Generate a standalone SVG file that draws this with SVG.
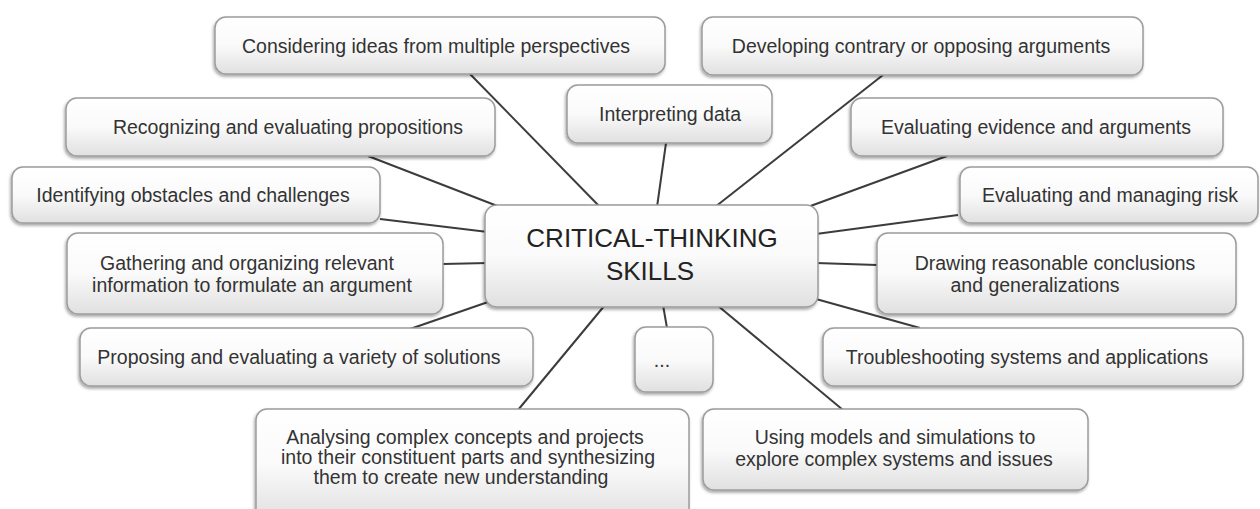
<svg xmlns="http://www.w3.org/2000/svg" width="1260" height="509" viewBox="0 0 1260 509">
<defs>
<linearGradient id="g" x1="0" y1="0" x2="0" y2="1">
<stop offset="0" stop-color="#ffffff"/>
<stop offset="0.5" stop-color="#fafafa"/>
<stop offset="1" stop-color="#e0e0e0"/>
</linearGradient>
<filter id="sh" x="-5%" y="-10%" width="110%" height="130%">
<feDropShadow dx="-1" dy="2" stdDeviation="1.5" flood-color="#000" flood-opacity="0.35"/>
</filter>
</defs>
<style>
.box{fill:url(#g);stroke:#9c9c9c;stroke-width:1.5;filter:url(#sh)}
.t{font-family:"Liberation Sans",Arial,sans-serif;font-size:19.5px;fill:#333;text-anchor:middle}
.c{font-size:26px;fill:#222}
.ln{stroke:#3c3c3c;stroke-width:2;fill:none}
</style>
<rect width="1260" height="509" fill="#fff"/>
<g id="connectors">
<line class="ln" x1="470" y1="74" x2="600" y2="207"/>
<line class="ln" x1="666" y1="143" x2="657" y2="207"/>
<line class="ln" x1="883" y1="75" x2="715" y2="207"/>
<line class="ln" x1="947" y1="156" x2="805" y2="208"/>
<line class="ln" x1="958" y1="215" x2="816" y2="234"/>
<line class="ln" x1="877" y1="265" x2="816" y2="263"/>
<line class="ln" x1="920" y1="328" x2="816" y2="299"/>
<line class="ln" x1="717" y1="305" x2="843" y2="410"/>
<line class="ln" x1="663" y1="305" x2="667" y2="328"/>
<line class="ln" x1="605" y1="305" x2="518" y2="410"/>
<line class="ln" x1="488" y1="302" x2="410" y2="329"/>
<line class="ln" x1="443" y1="264" x2="488" y2="263"/>
<line class="ln" x1="380" y1="219" x2="488" y2="232"/>
<line class="ln" x1="368" y1="156" x2="500" y2="207"/>
</g>
<g id="n-considering">
<rect class="box" x="215" y="17" width="450" height="57" rx="11"/>
<text class="t" x="436" y="53">Considering ideas from multiple perspectives</text>
</g>
<g id="n-developing">
<rect class="box" x="702" y="17" width="441" height="58" rx="11"/>
<text class="t" x="921" y="53">Developing contrary or opposing arguments</text>
</g>
<g id="n-interpreting">
<rect class="box" x="567" y="85" width="205" height="58" rx="11"/>
<text class="t" x="670" y="121">Interpreting data</text>
</g>
<g id="n-recognizing">
<rect class="box" x="66" y="98" width="429" height="58" rx="11"/>
<text class="t" x="288" y="134">Recognizing and evaluating propositions</text>
</g>
<g id="n-evidence">
<rect class="box" x="851" y="98" width="372" height="58" rx="11"/>
<text class="t" x="1036" y="134">Evaluating evidence and arguments</text>
</g>
<g id="n-identifying">
<rect class="box" x="12" y="167" width="368" height="56" rx="11"/>
<text class="t" x="193" y="202">Identifying obstacles and challenges</text>
</g>
<g id="n-risk">
<rect class="box" x="960" y="167" width="298" height="56" rx="11"/>
<text class="t" x="1110" y="202">Evaluating and managing risk</text>
</g>
<g id="n-gathering">
<rect class="box" x="67" y="233" width="376" height="81" rx="11"/>
<text class="t" x="247" y="270">Gathering and organizing relevant</text>
<text class="t" x="252" y="292">information to formulate an argument</text>
</g>
<g id="n-drawing">
<rect class="box" x="877" y="233" width="359" height="81" rx="11"/>
<text class="t" x="1055" y="270">Drawing reasonable conclusions</text>
<text class="t" x="1035" y="292">and generalizations</text>
</g>
<g id="n-center">
<rect class="box" x="485" y="205" width="333" height="102" rx="12"/>
<text class="t c" x="652" y="247">CRITICAL-THINKING</text>
<text class="t c" x="650" y="280">SKILLS</text>
</g>
<g id="n-proposing">
<rect class="box" x="80" y="328" width="453" height="58" rx="11"/>
<text class="t" x="299" y="364">Proposing and evaluating a variety of solutions</text>
</g>
<g id="n-troubleshooting">
<rect class="box" x="823" y="328" width="420" height="58" rx="11"/>
<text class="t" x="1027" y="364">Troubleshooting systems and applications</text>
</g>
<g id="n-more">
<rect class="box" x="635" y="327" width="78" height="65" rx="11"/>
<text class="t" x="662" y="367">...</text>
</g>
<g id="n-analysing">
<rect class="box" x="256" y="409" width="433" height="112" rx="11"/>
<text class="t" x="465" y="444">Analysing complex concepts and projects</text>
<text class="t" x="468" y="464">into their constituent parts and synthesizing</text>
<text class="t" x="461" y="484">them to create new understanding</text>
</g>
<g id="n-models">
<rect class="box" x="703" y="409" width="385" height="81" rx="11"/>
<text class="t" x="895" y="444">Using models and simulations to</text>
<text class="t" x="894" y="466">explore complex systems and issues</text>
</g>
</svg>
